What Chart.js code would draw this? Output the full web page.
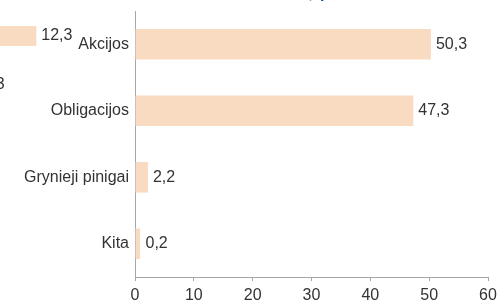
<!DOCTYPE html>
<html>
<head>
<meta charset="utf-8">
<script src="https://cdn.jsdelivr.net/npm/chart.js@4"></script>
<style>
  html, body { margin: 0; padding: 0; background: #fff; overflow: hidden; }
  #wrap { position: relative; width: 497px; height: 301px; overflow: hidden; }
  #main-chart { position: absolute; left: 0; top: 0; }
  #side-chart { position: absolute; left: -200px; top: 0; }
  .title { position: absolute; top: -15px; font: bold 16px "Liberation Sans", Arial, sans-serif; color: #1f4e8c; line-height: 16px; white-space: nowrap; }
  #title-a { right: 184px; }
  #title-b { left: 320px; }
</style>
</head>
<body>
<div id="wrap">
  <canvas id="side-chart" width="290" height="120"></canvas>
  <canvas id="main-chart" width="497" height="301"></canvas>
  <span class="title" id="title-a">Turto struktūra,</span>
  <span class="title" id="title-b">proc.</span>
</div>
<script>
const categories = ["Akcijos", "Obligacijos", "Grynieji pinigai", "Kita"];
const shares = [50.3, 47.3, 2.2, 0.2];
const tickValues = [0, 10, 20, 30, 40, 50, 60];

// neighbouring panel, only its right edge is in view
const sideCategories = ["", ""];
const sideShares = [12.3, 2.3];

const barColor = "#f9dbc1";
const textColor = "#333333";
const axisColor = "#a6a6a6";
const font = { family: "'Liberation Sans', Arial, sans-serif", size: 16 };

const valueLabels = {
  id: "valueLabels",
  afterDatasetsDraw(chart) {
    const ctx = chart.ctx;
    const meta = chart.getDatasetMeta(0);
    ctx.save();
    ctx.font = `${font.size}px ${font.family}`;
    ctx.fillStyle = textColor;
    ctx.textAlign = "left";
    ctx.textBaseline = "middle";
    meta.data.forEach((bar, i) => {
      const value = chart.data.datasets[0].data[i];
      const end = Math.max(bar.x, bar.base + 5);
      ctx.fillText(value.toFixed(1).replace(".", ","), end + 5, bar.y);
    });
    ctx.restore();
  },
};

function noEdgePadding(scale) {
  scale.paddingLeft = 0;
  scale.paddingRight = 0;
  scale.paddingTop = 0;
  scale.paddingBottom = 0;
}

new Chart(document.querySelector("#main-chart"), {
  type: "bar",
  data: {
    labels: categories,
    datasets: [
      {
        data: shares,
        backgroundColor: barColor,
        borderWidth: 0,
        barPercentage: 0.92,
        categoryPercentage: 0.5,
        minBarLength: 5,
      },
    ],
  },
  options: {
    indexAxis: "y",
    responsive: false,
    animation: false,
    layout: { padding: { top: 11, right: 9, bottom: 0, left: 0 } },
    plugins: { legend: { display: false }, tooltip: { enabled: false } },
    scales: {
      x: {
        min: 0,
        max: 60,
        afterBuildTicks: (scale) => {
          scale.ticks = tickValues.map((value) => ({ value }));
        },
        afterFit: (scale) => {
          scale.height = 24;
          noEdgePadding(scale);
        },
        border: { color: axisColor, width: 1 },
        grid: { drawOnChartArea: false, drawTicks: true, tickLength: 4, color: axisColor },
        ticks: { color: textColor, font, padding: 5, maxRotation: 0 },
      },
      y: {
        afterFit: (scale) => {
          scale.width = 135;
          noEdgePadding(scale);
        },
        border: { color: axisColor, width: 1 },
        grid: { display: false, drawTicks: false },
        ticks: { color: textColor, font, padding: 6 },
      },
    },
  },
  plugins: [valueLabels],
});

new Chart(document.querySelector("#side-chart"), {
  type: "bar",
  data: {
    labels: sideCategories,
    datasets: [
      {
        data: sideShares,
        backgroundColor: barColor,
        borderWidth: 0,
        barPercentage: 0.82,
        categoryPercentage: 0.5,
      },
    ],
  },
  options: {
    indexAxis: "y",
    responsive: false,
    animation: false,
    layout: { padding: { top: 11.5, right: 8.4, bottom: 10.5, left: 164 } },
    plugins: { legend: { display: false }, tooltip: { enabled: false } },
    scales: {
      x: { display: false, min: 0, max: 20 },
      y: { display: false },
    },
  },
  plugins: [valueLabels],
});
</script>
</body>
</html>
